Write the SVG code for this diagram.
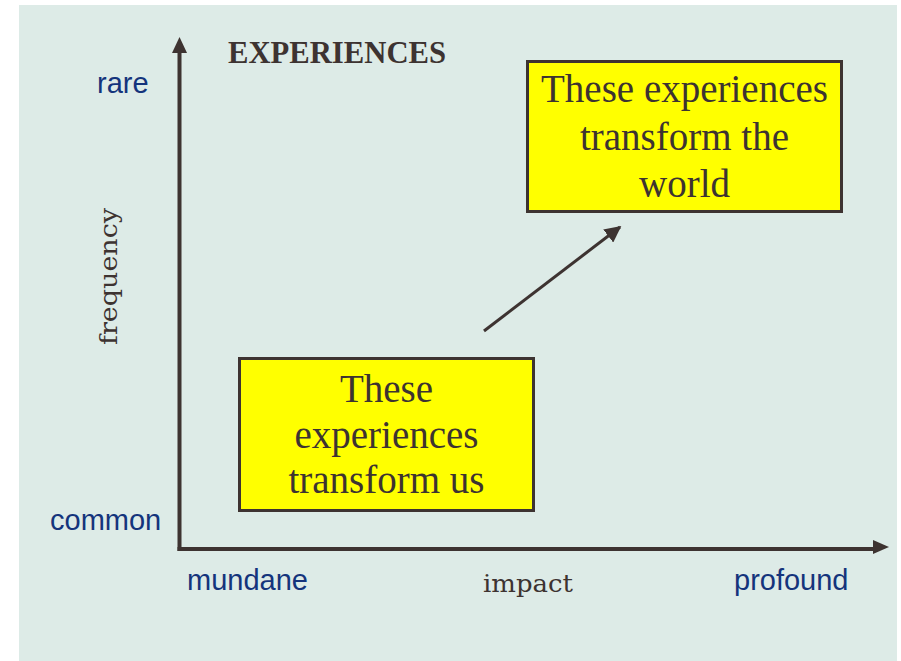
<svg xmlns="http://www.w3.org/2000/svg" width="901" height="661" viewBox="0 0 901 661">
<defs>
<style>
.bg{fill:#ddebe7}
.axis{stroke:#3d3331;stroke-width:4;fill:none}
.box{fill:#ffff00;stroke:#3d3331;stroke-width:3}
.boxt{font-family:"Liberation Serif","Times New Roman",serif;font-size:39px;fill:#3d3331;text-anchor:middle}
.lbl{font-family:"Liberation Sans",Arial,sans-serif;font-size:29px;fill:#14347c}
.ax{font-family:"DejaVu Serif","Liberation Serif",serif;font-size:25px;fill:#3d3331}
.title{font-family:"Liberation Serif","Times New Roman",serif;font-weight:bold;font-size:32px;fill:#3d3331}
</style>
<marker id="ah" viewBox="0 0 10 10" refX="9" refY="5" markerWidth="5.5" markerHeight="5.5" markerUnits="strokeWidth" orient="auto">
<path d="M0,0 L10,5 L0,10 Z" fill="#3d3331"/>
</marker>
</defs>
<rect class="bg" x="19" y="5" width="878" height="656"/>
<g id="connectors">
<line class="axis" x1="179.5" y1="551" x2="179.5" y2="53"/>
<polygon points="179.5,37 172,53 187,53" fill="#3d3331"/>
<line class="axis" x1="177.5" y1="549" x2="873" y2="549"/>
<polygon points="889,547 873,540 873,554" fill="#3d3331"/>
<line x1="484" y1="331" x2="620" y2="227" stroke="#3d3331" stroke-width="3" marker-end="url(#ah)"/>
</g>
<g id="title">
<text class="title" x="228" y="63" textLength="218" lengthAdjust="spacingAndGlyphs">EXPERIENCES</text>
</g>
<g id="labels">
<text class="lbl" x="97" y="93">rare</text>
<text class="lbl" x="50" y="530">common</text>
<text class="lbl" x="187" y="590">mundane</text>
<text class="lbl" x="734" y="590">profound</text>
<text class="ax" x="483" y="592" textLength="90" lengthAdjust="spacingAndGlyphs">impact</text>
<text class="ax" transform="translate(117,276.5) rotate(-90)" text-anchor="middle" textLength="137" lengthAdjust="spacingAndGlyphs">frequency</text>
</g>
<g id="node-world">
<rect class="box" x="527.5" y="61.5" width="314" height="150"/>
<text class="boxt" x="684.5" y="102">These experiences</text>
<text class="boxt" x="684.5" y="150">transform the</text>
<text class="boxt" x="684.5" y="197">world</text>
</g>
<g id="node-us">
<rect class="box" x="239.5" y="358.5" width="294" height="152"/>
<text class="boxt" x="386.5" y="402">These</text>
<text class="boxt" x="386.5" y="448">experiences</text>
<text class="boxt" x="386.5" y="493">transform us</text>
</g>
</svg>
